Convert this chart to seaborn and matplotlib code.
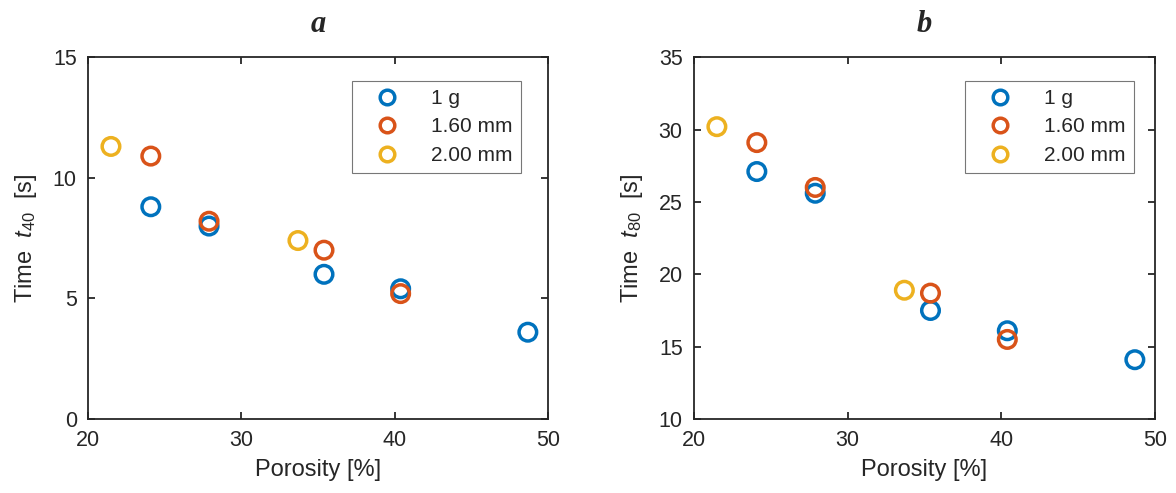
import matplotlib
matplotlib.use("Agg")
import matplotlib.pyplot as plt
from matplotlib.lines import Line2D
import numpy as np
import pandas as pd
import seaborn as sns

# porosity [%] and times [s]
por_1g = [24.1, 27.9, 35.4, 40.4, 48.7]
t40_1g = [8.8, 8.0, 6.0, 5.4, 3.6]
t80_1g = [27.1, 25.6, 17.5, 16.1, 14.1]

por_160 = [24.1, 27.9, 35.4, 40.4]
t40_160 = [10.9, 8.2, 7.0, 5.2]
t80_160 = [29.1, 26.0, 18.7, 15.5]

por_200 = [21.5, 33.7]
t40_200 = [11.3, 7.4]
t80_200 = [30.2, 18.9]

groups = ["1 g", "1.60 mm", "2.00 mm"]
colors = ["#0072BD", "#D95319", "#EDB120"]

df = pd.DataFrame({
    "porosity": por_1g + por_160 + por_200,
    "t40": t40_1g + t40_160 + t40_200,
    "t80": t80_1g + t80_160 + t80_200,
    "group": [groups[0]] * len(por_1g) + [groups[1]] * len(por_160) + [groups[2]] * len(por_200),
})

sns.set_style("ticks")
plt.rcParams["font.family"] = ["Liberation Sans", "DejaVu Sans"]
plt.rcParams["mathtext.fontset"] = "custom"
plt.rcParams["mathtext.it"] = "Liberation Sans:italic"
plt.rcParams["mathtext.rm"] = "Liberation Sans"

fig = plt.figure(figsize=(11.76, 4.93), dpi=100)
ax1 = fig.add_axes([0.0748, 0.150, 0.391, 0.734])
ax2 = fig.add_axes([0.590, 0.150, 0.392, 0.734])

pal = dict(zip(groups, colors))
dark = "#262626"


def panel(ax, ycol, ylim, yticks, ylabel, title, leg_x):
    sns.scatterplot(data=df, x="porosity", y=ycol, hue="group", palette=pal,
                    marker="o", s=160, linewidth=2.5, legend=False, ax=ax)
    pts = ax.collections[0]
    fc = pts.get_facecolors()
    pts.set_edgecolors(fc)
    pts.set_facecolors("none")

    ax.set_xlim(20, 50)
    ax.set_ylim(*ylim)
    ax.set_xticks([20, 30, 40, 50])
    ax.set_yticks(yticks)
    ax.tick_params(direction="in", top=True, right=True, length=5, width=1.3,
                   labelsize=15.5, colors=dark, pad=8)
    for sp in ax.spines.values():
        sp.set_visible(True)
        sp.set_linewidth(1.3)
        sp.set_color(dark)
    ax.set_xlabel("Porosity [%]", fontsize=17, color=dark, labelpad=6)
    ax.set_ylabel(ylabel, fontsize=17, color=dark, labelpad=10)
    ax.set_title(title, fontsize=22, fontweight="bold", style="italic",
                 family="Liberation Serif", pad=18)

    handles = [Line2D([], [], ls="none", marker="o", ms=10.5, mfc="none",
                      mec=c, mew=2.5) for c in colors]
    leg = ax.legend(handles, groups, loc="upper left", bbox_to_anchor=(leg_x, 0.935),
                    fontsize=15, frameon=True, fancybox=False, edgecolor="#555555",
                    borderpad=0.4, labelspacing=0.45, handletextpad=0.8,
                    handlelength=2.6, borderaxespad=0)
    leg.get_frame().set_linewidth(0.8)
    for t in leg.get_texts():
        t.set_color(dark)


panel(ax1, "t40", (0, 15), [0, 5, 10, 15], r"Time  $\mathit{t}_{\mathit{40}}$  [s]", "a", 0.574)
panel(ax2, "t80", (10, 35), [10, 15, 20, 25, 30, 35], r"Time  $\mathit{t}_{\mathit{80}}$  [s]", "b", 0.588)

fig.savefig("out.png", dpi=100, facecolor="white")
